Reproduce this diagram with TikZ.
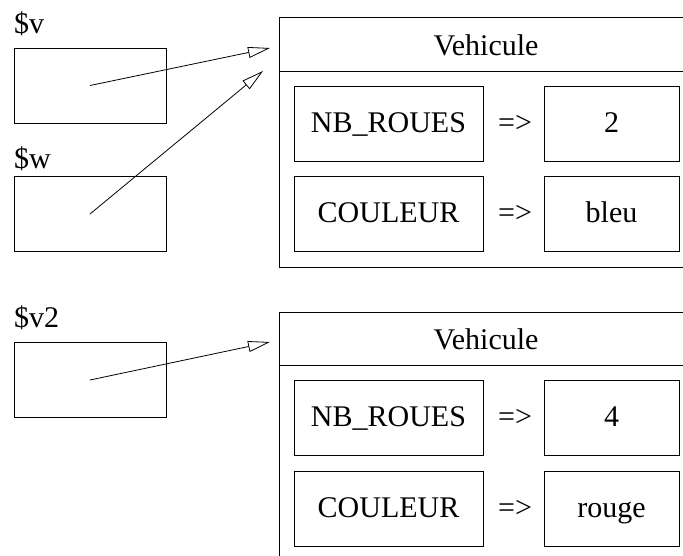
\documentclass[tikz,border=0pt]{standalone}
\usepackage{fontspec}
\setmainfont{Liberation Serif}
\usetikzlibrary{arrows.meta}
\tikzset{
  base/.style={font=\fontsize{30}{35}\selectfont},
  ptrbox/.style={draw, line width=0.8pt, minimum width=152pt, minimum height=75pt, inner sep=0pt},
  keybox/.style={base, draw, line width=0.8pt, minimum width=189pt, minimum height=75pt, inner sep=0pt, text height=17pt, text depth=0pt},
  valbox/.style={base, draw, line width=0.8pt, minimum width=135pt, minimum height=75pt, inner sep=0pt, text height=17pt, text depth=0pt},
  hdr/.style={base, inner sep=0pt, text height=22pt, text depth=0pt},
  arrowtxt/.style={base, inner sep=0pt, text height=17pt, text depth=0pt},
  varlabel/.style={base, anchor=base west, inner sep=0pt},
  frame/.style={line width=0.8pt},
  ref/.style={line width=0.8pt, -{Triangle[open, length=22pt, width=11pt, fill=white]}}
}
\begin{document}
\begin{tikzpicture}[x=1pt, y=-1pt]
\useasboundingbox (0,0) rectangle (683,555);
\clip (0,0) rectangle (683,555);
% ---- first object ----
\draw[frame] (279,17) rectangle (693,267);
\draw[frame] (279,71) -- (693,71);
\node[hdr] (h1) at (486,44) {Vehicule};
\node[keybox] (k1a) at (388.5,123.5) {NB\_ROUES};
\node[arrowtxt] (a1a) at (515,123.5) {=>};
\node[valbox] (v1a) at (611.5,123.5) {2};
\node[keybox] (k1b) at (388.5,214) {COULEUR};
\node[arrowtxt] (a1b) at (515,214) {=>};
\node[valbox] (v1b) at (611.5,214) {bleu};
% ---- second object ----
\draw[frame] (279,312) rectangle (693,600);
\draw[frame] (279,365) -- (693,365);
\node[hdr] (h2) at (486,338.5) {Vehicule};
\node[keybox] (k2a) at (388.5,418) {NB\_ROUES};
\node[arrowtxt] (a2a) at (515,418) {=>};
\node[valbox] (v2a) at (611.5,418) {4};
\node[keybox] (k2b) at (388.5,509) {COULEUR};
\node[arrowtxt] (a2b) at (515,509) {=>};
\node[valbox] (v2b) at (611.5,509) {rouge};
% ---- variables ----
\node[varlabel] (lv) at (14,33) {\$v};
\node[ptrbox] (pv) at (90,85.5) {};
\node[varlabel] (lw) at (14,168) {\$w};
\node[ptrbox] (pw) at (90,214) {};
\node[varlabel] (lv2) at (14,327) {\$v2};
\node[ptrbox] (pv2) at (90,380) {};
% ---- references ----
\coordinate (tv) at (270,48);
\coordinate (tw) at (263,71);
\coordinate (tv2) at (270,342);
\draw[ref] (pv.center) -- (tv);
\draw[ref] (pw.center) -- (tw);
\draw[ref] (pv2.center) -- (tv2);
\end{tikzpicture}
\end{document}
